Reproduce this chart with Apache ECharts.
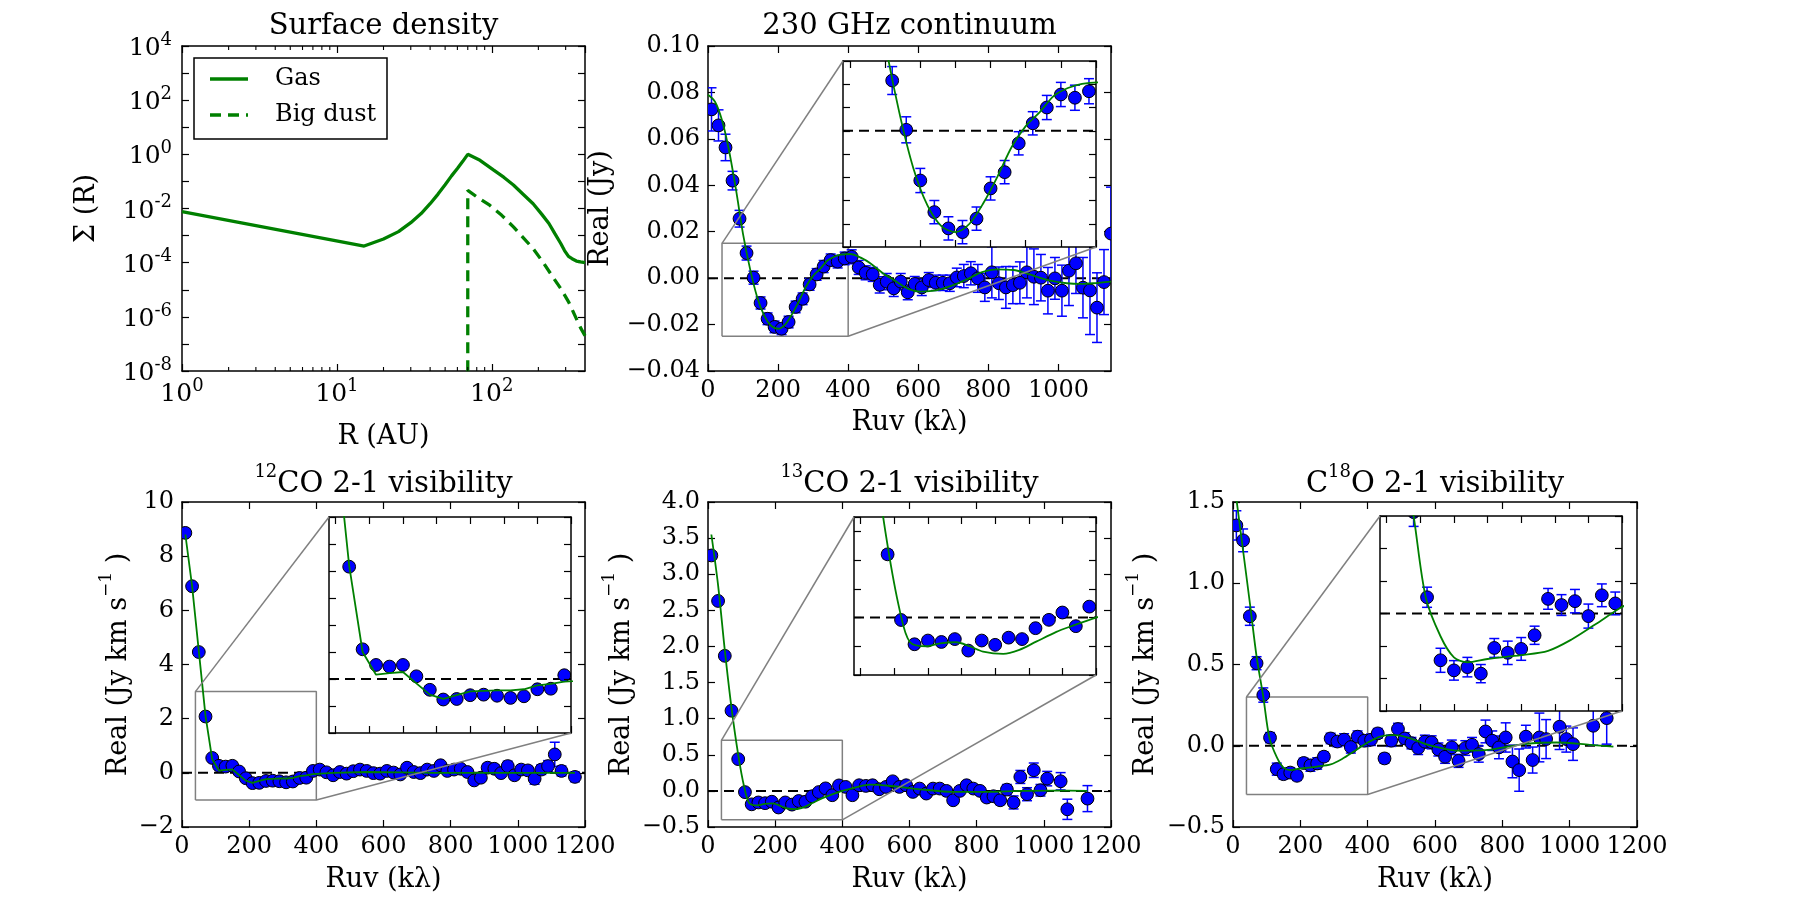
<!DOCTYPE html>
<html>
<head>
<meta charset="utf-8">
<title>disk model fits</title>
<script src="https://cdn.jsdelivr.net/npm/echarts@6/dist/echarts.min.js"></script>
<style>
  html, body { margin: 0; padding: 0; background: #fff; }
  #chart { width: 1819px; height: 919px; }
</style>
</head>
<body>
<div id="chart"></div>
<script>
// ---- surface density (AU, arbitrary units) ----
var gasR = [1, 15, 20, 25, 30, 35, 40, 45, 50, 55, 60, 65, 70, 84, 103, 120, 138, 160, 185, 210, 234, 255, 279, 295, 313, 330, 352, 375, 400];
var gasSigma = [7.6e-3, 4.1e-4, 7.5e-4, 1.4e-3, 3.0e-3, 6.5e-3, 1.5e-2, 3.4e-2, 7.5e-2, 0.16, 0.3, 0.55, 1.0, 0.6, 0.26, 0.14, 0.074, 0.033, 0.015, 6.2e-3, 2.8e-3, 1.2e-3, 5.1e-4, 2.8e-4, 1.7e-4, 1.4e-4, 1.15e-4, 1.07e-4, 1.0e-4];
var dustR = [70, 70, 80, 97, 116, 138, 160, 185, 214, 248, 279, 314, 374, 400];
var dustSigma = [1e-10, 0.047, 0.027, 0.0132, 5.6e-3, 2.1e-3, 8.3e-4, 3.3e-4, 1.05e-4, 2.95e-5, 1.1e-5, 3.5e-6, 4e-7, 2e-7];
var legendNames = ['Gas', 'Big dust'];

// ---- 230 GHz continuum ----
var contRuv = [10, 30, 50, 70, 90, 110, 130, 150, 170, 190, 210, 230, 250, 270, 290, 310, 330, 350, 370, 390,
  410, 430, 450, 470, 490, 510, 530, 550, 570, 590, 610, 630, 650, 670, 690, 710, 730, 750, 770, 790,
  810, 830, 850, 870, 890, 910, 930, 950, 970, 990, 1010, 1030, 1050, 1070, 1090, 1110, 1130, 1150];
var contReal = [0.0727, 0.0658, 0.0563, 0.0420, 0.0256, 0.0108, 0.0002, -0.0107, -0.0175, -0.0210,
  -0.0218, -0.0189, -0.0124, -0.0089, -0.0027, 0.0016, 0.0050, 0.0078, 0.0071, 0.0085,
  0.0092, 0.0046, 0.0023, 0.0016, -0.0029, -0.0015, -0.0044, -0.0015, -0.0061, -0.0025,
  -0.0040, -0.0008, -0.0020, -0.0020, -0.0022, 0.0003, 0.0009, 0.0021, -0.0001, -0.0040,
  0.0025, -0.0022, -0.0040, -0.0030, -0.0020, 0.0025, 0.0006, 0.0002, -0.0054, -0.0001,
  -0.0054, 0.0032, 0.0064, -0.0041, -0.0053, -0.0127, -0.0017, 0.0192];
var contErr = [0.0093, 0.0067, 0.0057, 0.0040, 0.0036, 0.0030, 0.0028, 0.0026, 0.0025, 0.0025,
  0.0025, 0.0025, 0.0025, 0.0025, 0.0025, 0.0025, 0.0026, 0.0026, 0.0027, 0.0027,
  0.0030, 0.0030, 0.0030, 0.0030, 0.0035, 0.0035, 0.0035, 0.0035, 0.0032, 0.0032,
  0.0035, 0.0032, 0.0033, 0.0033, 0.0035, 0.0040, 0.0050, 0.0050, 0.0060, 0.0060,
  0.0110, 0.0070, 0.0090, 0.0080, 0.0090, 0.0110, 0.0120, 0.0100, 0.0100, 0.0090,
  0.0110, 0.0150, 0.0130, 0.0130, 0.0190, 0.0150, 0.0140, 0.0200];
var contModelRuv = [0, 20, 40, 60, 80, 100, 120, 140, 160, 180, 200, 220, 240, 260, 280, 300, 320, 340, 360, 380,
  406, 440, 463, 500, 530, 570, 606, 640, 663, 700, 739, 780, 824, 872, 900, 938, 980, 1024, 1062, 1100, 1150];
var contModelReal = [0.079, 0.076, 0.068, 0.055, 0.038, 0.019, 0.004, -0.008, -0.016, -0.0205, -0.0218, -0.020, -0.0155, -0.0098, -0.0035, 0.0010, 0.0040, 0.0075, 0.0092, 0.0101,
  0.0104, 0.0085, 0.0064, 0.0020, -0.0008, -0.0045, -0.0058, -0.0055, -0.0048, -0.0030, -0.0005, 0.0025, 0.0038, 0.0035, 0.0025, 0.0006, -0.0012, -0.0022, -0.0025, -0.0022, -0.0015];

// ---- 12CO 2-1 ----
var co12Ruv = [10, 30, 50, 70, 90, 110, 130, 150, 170, 190, 210, 230, 250, 270, 290, 310, 330, 350, 370, 390,
  410, 430, 450, 470, 490, 510, 530, 550, 570, 590, 610, 630, 650, 670, 690, 710, 730, 750, 770, 790,
  810, 830, 850, 870, 890, 910, 930, 950, 970, 990, 1010, 1030, 1050, 1070, 1090, 1110, 1130, 1170];
var co12Real = [8.86, 6.89, 4.46, 2.08, 0.55, 0.26, 0.23, 0.26, 0.05, -0.20,
  -0.38, -0.37, -0.30, -0.29, -0.31, -0.35, -0.32, -0.19, -0.18, 0.07,
  0.12, 0.02, -0.09, 0.03, -0.03, 0.06, 0.12, 0.07, -0.01, -0.03,
  0.07, 0.01, -0.06, 0.19, 0.03, -0.01, 0.12, 0.07, 0.28, 0.07,
  0.12, 0.15, 0.03, -0.28, -0.18, 0.19, 0.15, -0.01, 0.25, -0.09,
  0.12, 0.09, -0.22, 0.12, 0.25, 0.68, 0.07, -0.15];
var co12Err = [0.12, 0.10, 0.08, 0.07, 0.06, 0.06, 0.06, 0.06, 0.06, 0.06,
  0.06, 0.06, 0.06, 0.06, 0.06, 0.06, 0.06, 0.06, 0.06, 0.06,
  0.07, 0.07, 0.07, 0.07, 0.07, 0.07, 0.07, 0.07, 0.07, 0.07,
  0.08, 0.08, 0.08, 0.08, 0.08, 0.08, 0.08, 0.08, 0.08, 0.08,
  0.10, 0.10, 0.10, 0.12, 0.12, 0.15, 0.15, 0.15, 0.18, 0.15,
  0.15, 0.15, 0.20, 0.18, 0.20, 0.45, 0.18, 0.18];
var co12ModelRuv = [10, 30, 50, 70, 90, 110, 130, 150, 170, 190, 210, 230, 250, 270, 290, 310, 330, 350, 370, 390, 450, 550, 650, 750, 850, 950, 1050, 1170];
var co12ModelReal = [8.8, 6.9, 4.5, 2.1, 0.5, 0.08, 0.11, 0.13, -0.08, -0.29, -0.37, -0.30, -0.23, -0.22, -0.21, -0.21, -0.19, -0.12, -0.09, -0.05, 0.0, 0.03, 0.02, 0.0, 0.0, 0.0, 0.0, 0.0];

// ---- 13CO 2-1 ----
var co13Ruv = [10, 30, 50, 70, 90, 110, 130, 150, 170, 190, 210, 230, 250, 270, 290, 310, 330, 350, 370, 390,
  410, 430, 450, 470, 490, 510, 530, 550, 570, 590, 610, 630, 650, 670, 690, 710, 730, 750, 770, 790,
  810, 830, 850, 870, 890, 910, 930, 950, 970, 990, 1010, 1050, 1070, 1130];
var co13Real = [3.26, 2.63, 1.87, 1.11, 0.44, -0.017, -0.186, -0.16, -0.17, -0.15,
  -0.23, -0.16, -0.19, -0.14, -0.15, -0.074, -0.016, 0.035, -0.06, 0.076,
  0.055, -0.06, 0.078, 0.069, 0.078, 0.023, 0.055, 0.133, 0.055, 0.078,
  -0.014, 0.032, -0.037, 0.032, 0.032, 0.0, -0.13, 0.0, 0.078, 0.032,
  0.0, -0.092, -0.074, -0.13, 0.018, -0.16, 0.193, -0.046, 0.286, 0.009,
  0.17, 0.133, -0.255, -0.107];
var co13Err = [0.05, 0.04, 0.035, 0.03, 0.03, 0.02, 0.02, 0.02, 0.02, 0.02,
  0.02, 0.02, 0.02, 0.02, 0.02, 0.02, 0.02, 0.02, 0.02, 0.02,
  0.025, 0.025, 0.025, 0.025, 0.025, 0.025, 0.025, 0.025, 0.025, 0.025,
  0.025, 0.025, 0.025, 0.03, 0.03, 0.03, 0.035, 0.04, 0.05, 0.05,
  0.05, 0.055, 0.06, 0.06, 0.07, 0.09, 0.09, 0.09, 0.10, 0.08,
  0.10, 0.12, 0.14, 0.18];
var co13ModelRuv = [10, 30, 50, 70, 90, 108, 123, 148, 168, 192, 212, 232, 262, 286, 311, 341, 361, 400, 440, 483, 553, 632, 731, 830, 929, 1028, 1130];
var co13ModelReal = [3.55, 2.85, 1.95, 1.15, 0.5, 0.05, -0.17, -0.2, -0.18, -0.172, -0.2, -0.237, -0.253, -0.225, -0.168, -0.1, -0.064, 0.0, 0.05, 0.087, 0.064, 0.022, -0.014, -0.014, 0.0, 0.004, 0.0];

// ---- C18O 2-1 ----
var c18oRuv = [10, 30, 50, 70, 90, 110, 130, 150, 170, 190, 210, 230, 250, 270, 290, 310, 330, 350, 370, 390,
  410, 430, 450, 470, 490, 510, 530, 550, 570, 590, 610, 630, 650, 670, 690, 710, 730, 750, 770, 790,
  810, 830, 850, 870, 890, 910, 930, 970, 990, 1010, 1070, 1110];
var c18oReal = [1.356, 1.264, 0.797, 0.508, 0.312, 0.05, -0.144, -0.175, -0.165, -0.185,
  -0.106, -0.121, -0.109, -0.067, 0.045, 0.026, 0.038, -0.008, 0.056, 0.031,
  0.037, 0.076, -0.078, 0.031, 0.103, 0.045, 0.016, -0.014, 0.025, 0.021,
  -0.023, -0.068, -0.01, -0.093, -0.014, 0.006, -0.051, 0.088, 0.031, -0.01,
  0.051, -0.097, -0.15, 0.056, -0.088, 0.051, 0.041,
  0.117, 0.041, 0.01, 0.123, 0.17];
var c18oErr = [0.09, 0.07, 0.056, 0.04, 0.044, 0.031, 0.037, 0.03, 0.03, 0.028,
  0.029, 0.036, 0.035, 0.028, 0.032, 0.032, 0.036, 0.037, 0.035, 0.035,
  0.035, 0.03, 0.03, 0.035, 0.035, 0.035, 0.035, 0.04, 0.04, 0.04,
  0.04, 0.04, 0.045, 0.04, 0.045, 0.045, 0.05, 0.07, 0.06, 0.07,
  0.09, 0.10, 0.13, 0.07, 0.08, 0.15, 0.12,
  0.14, 0.08, 0.10, 0.12, 0.16];
var c18oModelRuv = [10, 30, 50, 70, 90, 108, 130, 150, 170, 200, 250, 290, 325, 360, 400, 440, 480, 520, 570, 620, 670, 750, 800, 870, 960, 1060, 1130];
var c18oModelReal = [1.52, 1.2, 0.88, 0.55, 0.3, 0.05, -0.07, -0.135, -0.15, -0.14, -0.128, -0.115, -0.08, -0.034, 0.02, 0.058, 0.065, 0.05, 0.012, -0.015, -0.03, -0.027, -0.012, 0.012, 0.02, 0.006, -0.005];

// zoom boxes of the insets
var contBoxX = [40, 400], contBoxY = [-0.025, 0.015];
var co12BoxX = [40, 400], co12BoxY = [-1, 3];
var co13BoxX = [40, 400], co13BoxY = [-0.4, 0.7];
var c18oBoxX = [40, 400], c18oBoxY = [-0.3, 0.3];
var insetTicksX = [50, 100, 150, 200, 250, 300, 350, 400];

var FONT = 'DejaVu Serif';
var GREEN = '#008000';
var GRAY = '#808080';
var TICK_FS = 24;
var DUST_DASH = [11, 7];

var chart = echarts.init(document.getElementById('chart'));

var option = {
  animation: false,
  backgroundColor: '#fff',
  grid: [], xAxis: [], yAxis: [], series: []
};

function minusSign(s) { return s.replace('-', '\u2212'); }
function fmtFixed(d) {
  return function (v) {
    var s = v.toFixed(d);
    if (parseFloat(s) === 0) s = (0).toFixed(d);
    return minusSign(s);
  };
}
function fmtPow(step) {
  return function (v) {
    var n = Math.round(v);
    if (Math.abs(v - n) > 1e-6 || n % step !== 0) return '';
    return '{b|10}{s|' + n + '}';
  };
}
var powRich = {
  b: { fontFamily: FONT, fontSize: 25, lineHeight: 30, verticalAlign: 'bottom', color: '#000' },
  s: { fontFamily: FONT, fontSize: 18, lineHeight: 12, verticalAlign: 'top', color: '#000' }
};

function makeAxis(gi, pos, range, interval, label, ticks, z) {
  var a = {
    type: 'value', gridIndex: gi, position: pos, min: range[0], max: range[1], z: z,
    axisLine: { show: true, onZero: false, lineStyle: { color: '#000', width: 1.5 } },
    axisTick: { show: true, inside: true, length: 7, lineStyle: { color: '#000', width: 1.2 } },
    splitLine: { show: false },
    axisLabel: { show: false }
  };
  if (interval != null) a.interval = interval;
  if (ticks) a.axisTick.customValues = ticks;
  if (label) {
    a.axisLabel = {
      show: true, formatter: label.fmt, color: '#000', fontFamily: FONT, fontSize: TICK_FS,
      margin: label.margin || 8, hideOverlap: false,
      showMaxLabel: label.showMax !== false, showMinLabel: true
    };
    if (label.rich) a.axisLabel.rich = label.rich;
  }
  return a;
}

function addPanel(rect, xr, yr, o) {
  var gi = option.grid.length;
  option.grid.push({
    left: rect[0], top: rect[1], width: rect[2], height: rect[3],
    containLabel: false, outerBoundsMode: 'none',
    show: !!o.inset, backgroundColor: '#fff', borderWidth: 0, z: o.inset ? 10 : 0
  });
  var az = o.inset ? 15 : 0;
  var xi = option.xAxis.length;
  option.xAxis.push(makeAxis(gi, 'bottom', xr, o.xInterval, o.xLabel, o.xTicks, az));
  option.xAxis.push(makeAxis(gi, 'top', xr, o.xInterval, null, o.xTicks, az));
  var yi = option.yAxis.length;
  option.yAxis.push(makeAxis(gi, 'left', yr, o.yInterval, o.yLabel, o.yTicks, az));
  option.yAxis.push(makeAxis(gi, 'right', yr, o.yInterval, null, o.yTicks, az));
  return { grid: gi, x: xi, y: yi, rect: rect, xr: xr, yr: yr, base: o.inset ? 10 : 0 };
}

function pairs(xs, ys) { return xs.map(function (x, i) { return [x, ys[i]]; }); }

function addErrorbars(p, xs, ys, es) {
  var data = xs.map(function (x, i) { return [x, ys[i], es[i]]; });
  option.series.push({
    type: 'custom', xAxisIndex: p.x, yAxisIndex: p.y, clip: true, z: p.base + 3, silent: true,
    data: data,
    renderItem: function (params, api) {
      var x = api.value(0), y = api.value(1), e = api.value(2);
      var c = api.coord([x, y]), hi = api.coord([x, y + e]), lo = api.coord([x, y - e]);
      var cap = 5;
      function seg(x1, y1, x2, y2) {
        return { type: 'line', shape: { x1: x1, y1: y1, x2: x2, y2: y2 }, style: { stroke: '#0000ff', lineWidth: 1.5 } };
      }
      return { type: 'group', children: [
        seg(c[0], hi[1], c[0], lo[1]),
        seg(c[0] - cap, hi[1], c[0] + cap, hi[1]),
        seg(c[0] - cap, lo[1], c[0] + cap, lo[1])
      ] };
    }
  });
  option.series.push({
    type: 'custom', xAxisIndex: p.x, yAxisIndex: p.y, clip: true, z: p.base + 4, silent: true,
    data: data,
    renderItem: function (params, api) {
      var c = api.coord([api.value(0), api.value(1)]);
      return { type: 'circle', shape: { cx: c[0], cy: c[1], r: 6.4 }, style: { fill: '#0000ff', stroke: '#000', lineWidth: 1 } };
    }
  });
}

function addModel(p, xs, ys, smooth) {
  option.series.push({
    type: 'line', xAxisIndex: p.x, yAxisIndex: p.y, data: pairs(xs, ys), symbol: 'none',
    smooth: smooth || false, clip: true, z: p.base + 5, silent: true,
    lineStyle: { color: GREEN, width: 1.8 }
  });
}

function addZero(p) {
  option.series.push({
    type: 'line', xAxisIndex: p.x, yAxisIndex: p.y, data: [[p.xr[0], 0], [p.xr[1], 0]], symbol: 'none',
    clip: true, z: p.base + 2, silent: true,
    lineStyle: { color: '#000', width: 2, type: [10, 6] }
  });
}

function addBox(p, bx, by) {
  option.series.push({
    type: 'line', xAxisIndex: p.x, yAxisIndex: p.y, symbol: 'none', clip: false, z: p.base + 2, silent: true,
    data: [[bx[0], by[0]], [bx[1], by[0]], [bx[1], by[1]], [bx[0], by[1]], [bx[0], by[0]]],
    lineStyle: { color: GRAY, width: 1.5 }
  });
}

// ---------- panel 1: surface density (log-log) ----------
var logRmax = Math.log10(400);
var P1 = addPanel([182, 46, 403, 325], [0, logRmax], [-8, 4], {
  xInterval: 1, yInterval: 1,
  xLabel: { fmt: fmtPow(1), rich: powRich, margin: 6, showMax: false },
  yLabel: { fmt: fmtPow(2), rich: powRich, margin: 10 }
});
function logPairs(xs, ys) { return xs.map(function (x, i) { return [Math.log10(x), Math.log10(ys[i])]; }); }
option.series.push({
  name: legendNames[0], type: 'line', xAxisIndex: P1.x, yAxisIndex: P1.y, data: logPairs(gasR, gasSigma),
  symbol: 'none', clip: true, z: 4, silent: true, lineStyle: { color: GREEN, width: 3.3 }
});
option.series.push({
  name: legendNames[1], type: 'line', xAxisIndex: P1.x, yAxisIndex: P1.y, data: logPairs(dustR, dustSigma),
  symbol: 'none', clip: true, z: 4, silent: true, lineStyle: { color: GREEN, width: 3.3, type: DUST_DASH }
});
// minor log ticks on the R axis
var minorLogR = [];
[1, 10, 100].forEach(function (dec) {
  for (var k = 2; k <= 9; k++) { if (k * dec < 400) minorLogR.push([Math.log10(k * dec)]); }
});
option.series.push({
  type: 'custom', xAxisIndex: P1.x, yAxisIndex: P1.y, z: 6, silent: true, data: minorLogR,
  encode: { x: 0 },
  renderItem: function (params, api) {
    var v = api.value(0);
    var b = api.coord([v, -8]), t = api.coord([v, 4]);
    return { type: 'group', children: [
      { type: 'line', shape: { x1: b[0], y1: b[1], x2: b[0], y2: b[1] - 4 }, style: { stroke: '#000', lineWidth: 1.1 } },
      { type: 'line', shape: { x1: t[0], y1: t[1], x2: t[0], y2: t[1] + 4 }, style: { stroke: '#000', lineWidth: 1.1 } }
    ] };
  }
});

// ---------- panel 2: continuum ----------
var P2 = addPanel([708, 46, 403, 325], [0, 1150], [-0.04, 0.10], {
  xInterval: 200, yInterval: 0.02,
  xLabel: { fmt: fmtFixed(0), showMax: false }, yLabel: { fmt: fmtFixed(2) }
});
addZero(P2); addBox(P2, contBoxX, contBoxY);
addErrorbars(P2, contRuv, contReal, contErr);
addModel(P2, contModelRuv, contModelReal, 0.3);
var I2 = addPanel([843, 61, 253, 186], contBoxX, contBoxY, { inset: true, yInterval: 0.005, xTicks: insetTicksX });
addZero(I2); addErrorbars(I2, contRuv, contReal, contErr); addModel(I2, contModelRuv, contModelReal, 0.3);

// ---------- panel 3: 12CO ----------
var P3 = addPanel([182, 502, 403, 325], [0, 1200], [-2, 10], {
  xInterval: 200, yInterval: 2, xLabel: { fmt: fmtFixed(0) }, yLabel: { fmt: fmtFixed(0) }
});
addZero(P3); addBox(P3, co12BoxX, co12BoxY);
addErrorbars(P3, co12Ruv, co12Real, co12Err);
addModel(P3, co12ModelRuv, co12ModelReal, false);
var I3 = addPanel([329, 517, 242, 216], co12BoxX, co12BoxY, { inset: true, yInterval: 0.5, xTicks: insetTicksX });
addZero(I3); addErrorbars(I3, co12Ruv, co12Real, co12Err); addModel(I3, co12ModelRuv, co12ModelReal, false);

// ---------- panel 4: 13CO ----------
var P4 = addPanel([708, 502, 403, 325], [0, 1200], [-0.5, 4.0], {
  xInterval: 200, yInterval: 0.5, xLabel: { fmt: fmtFixed(0) }, yLabel: { fmt: fmtFixed(1) }
});
addZero(P4); addBox(P4, co13BoxX, co13BoxY);
addErrorbars(P4, co13Ruv, co13Real, co13Err);
addModel(P4, co13ModelRuv, co13ModelReal, 0.3);
var I4 = addPanel([854, 517, 242, 158], co13BoxX, co13BoxY, { inset: true, yInterval: 0.2, xTicks: insetTicksX });
addZero(I4); addErrorbars(I4, co13Ruv, co13Real, co13Err); addModel(I4, co13ModelRuv, co13ModelReal, 0.3);

// ---------- panel 5: C18O ----------
var P5 = addPanel([1233, 502, 404, 325], [0, 1200], [-0.5, 1.5], {
  xInterval: 200, yInterval: 0.5, xLabel: { fmt: fmtFixed(0) }, yLabel: { fmt: fmtFixed(1) }
});
addZero(P5); addBox(P5, c18oBoxX, c18oBoxY);
addErrorbars(P5, c18oRuv, c18oReal, c18oErr);
addModel(P5, c18oModelRuv, c18oModelReal, 0.3);
var I5 = addPanel([1380, 516, 242, 195], c18oBoxX, c18oBoxY, { inset: true, yInterval: 0.1, xTicks: insetTicksX });
addZero(I5); addErrorbars(I5, c18oRuv, c18oReal, c18oErr); addModel(I5, c18oModelRuv, c18oModelReal, 0.3);

chart.setOption(option);

// ---------- texts, legend box and inset connector lines ----------
var supRich = {
  s: { fontFamily: FONT, fontSize: 18, lineHeight: 14, verticalAlign: 'top', fill: '#000' },
  b: { fontFamily: FONT, fontSize: 29, lineHeight: 36, verticalAlign: 'bottom', fill: '#000' }
};
var labRich = {
  s: { fontFamily: FONT, fontSize: 17, lineHeight: 12, verticalAlign: 'top', fill: '#000' },
  b: { fontFamily: FONT, fontSize: 27, lineHeight: 34, verticalAlign: 'bottom', fill: '#000' }
};
var gfx = [];
function txt(text, x, y, size, rot, rich, align) {
  var el = { type: 'text', x: x, y: y, z: 30, silent: true,
    style: { text: text, fontFamily: FONT, fontSize: size, fill: '#000', align: align || 'center', verticalAlign: 'middle' } };
  if (rot) el.rotation = rot;
  if (rich) el.style.rich = rich;
  gfx.push(el);
}
function cx(p) { return p.rect[0] + p.rect[2] / 2; }
function cy(p) { return p.rect[1] + p.rect[3] / 2; }
function bottom(p) { return p.rect[1] + p.rect[3]; }
var R90 = Math.PI / 2;

txt('Surface density', cx(P1), P1.rect[1] - 20, 29);
txt('R (AU)', cx(P1), bottom(P1) + 66, 27);
txt('\u03a3 (R)', P1.rect[0] - 95, cy(P1), 27, R90);

txt('230 GHz continuum', cx(P2), P2.rect[1] - 20, 29);
txt('Ruv (k\u03bb)', cx(P2), bottom(P2) + 52, 27);
txt('Real (Jy)', P2.rect[0] - 107, cy(P2), 27, R90);

txt('{s|12}{b|CO 2-1 visibility}', cx(P3), P3.rect[1] - 21, 29, 0, supRich);
txt('{s|13}{b|CO 2-1 visibility}', cx(P4), P4.rect[1] - 21, 29, 0, supRich);
txt('{b|C}{s|18}{b|O 2-1 visibility}', cx(P5), P5.rect[1] - 21, 29, 0, supRich);
[P3, P4, P5].forEach(function (p, i) {
  txt('Ruv (k\u03bb)', cx(p), bottom(p) + 53, 27);
  var off = [67, 90, 91][i];
  txt('{b|Real (Jy km s}{s|\u22121}{b| )}', p.rect[0] - off, cy(p), 27, R90, labRich);
});

// legend of panel 1
var lg = { left: 194, top: 58, width: 193, height: 81 };
gfx.push({ type: 'rect', z: 28, silent: true, shape: { x: lg.left, y: lg.top, width: lg.width, height: lg.height },
  style: { fill: '#fff', stroke: '#000', lineWidth: 1.5 } });
[[79, null], [115, DUST_DASH]].forEach(function (row, i) {
  var st = { stroke: GREEN, lineWidth: 3.3 };
  if (row[1]) st.lineDash = row[1];
  gfx.push({ type: 'line', z: 29, silent: true, shape: { x1: lg.left + 16, y1: row[0], x2: lg.left + 54, y2: row[0] }, style: st });
  txt(legendNames[i], lg.left + 81, row[0], 24, 0, null, 'left');
});

function px(p, pt) { return chart.convertToPixel({ xAxisIndex: p.x, yAxisIndex: p.y }, pt); }
[[P2, I2, contBoxX, contBoxY], [P3, I3, co12BoxX, co12BoxY], [P4, I4, co13BoxX, co13BoxY], [P5, I5, c18oBoxX, c18oBoxY]].forEach(function (q) {
  var m = q[0], ins = q[1], bx = q[2], by = q[3];
  var a = px(m, [bx[0], by[1]]), b = px(ins, [bx[0], by[1]]);
  var c = px(m, [bx[1], by[0]]), d = px(ins, [bx[1], by[0]]);
  [[a, b], [c, d]].forEach(function (s) {
    gfx.push({ type: 'line', z: 25, silent: true,
      shape: { x1: s[0][0], y1: s[0][1], x2: s[1][0], y2: s[1][1] },
      style: { stroke: GRAY, lineWidth: 1.5 } });
  });
});

chart.setOption({ graphic: { elements: gfx } });
</script>
</body>
</html>
